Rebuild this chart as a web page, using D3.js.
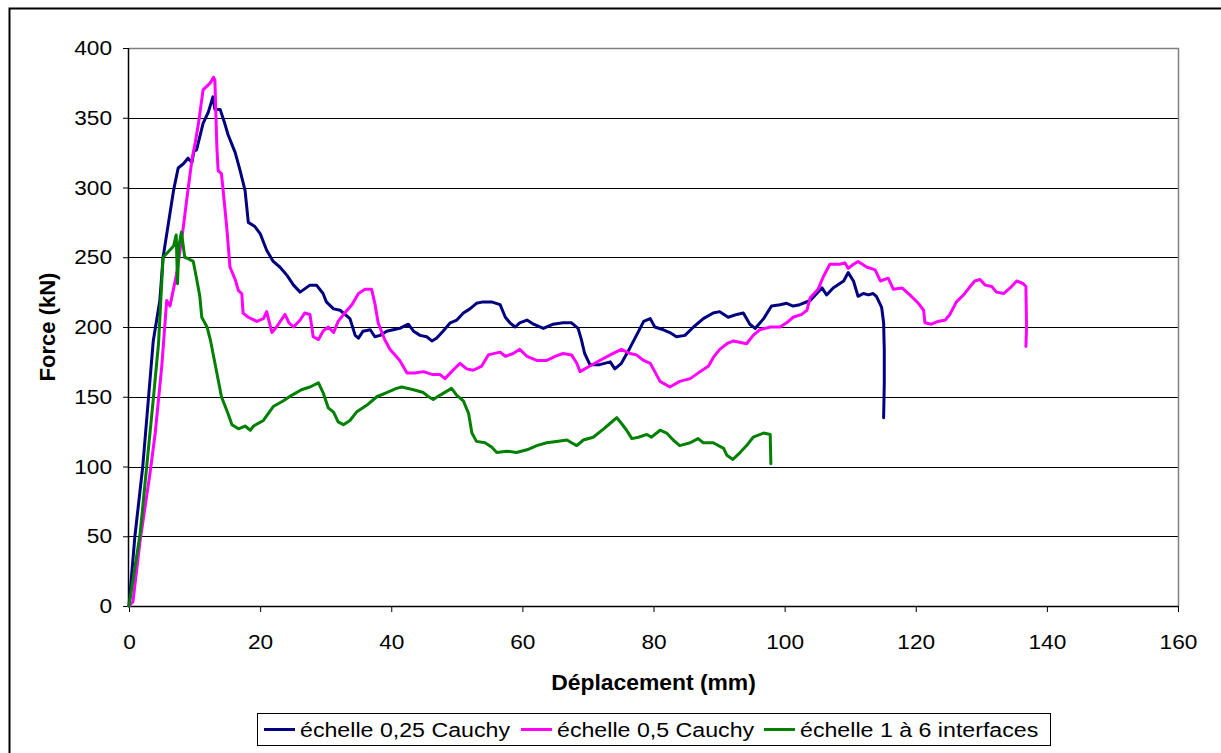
<!DOCTYPE html>
<html>
<head>
<meta charset="utf-8">
<script src="https://cdn.jsdelivr.net/npm/d3@7"></script>
<style>
html,body{margin:0;padding:0;background:#fff;}
svg{display:block;}
text{font-family:"Liberation Sans",Arial,sans-serif;}
</style>
</head>
<body>
<svg id="chart" width="1221" height="753"></svg>
<script>
// ---- Data ----
const xTicks = [0, 20, 40, 60, 80, 100, 120, 140, 160];
const yTicks = [0, 50, 100, 150, 200, 250, 300, 350, 400];
const seriesNames = ["échelle 0,25 Cauchy", "échelle 0,5 Cauchy", "échelle 1 à 6 interfaces"];
const seriesColors = ["#000080", "#FF00FF", "#008000"];

const blueX = [0,0.9,2.1,3.7,4.7,5.2,6.8,7.5,8.3,9.0,9.6,9.9,10.3,11.3,12.1,12.8,13.1,13.9,14.6,15.1,16.2,16.9,17.7,18.2,19.2,20.0,21.0,22.0,23.0,24.1,25.1,26.1,27.6,28.6,29.6,30.1,31.2,32.2,33.7,34.5,35.0,35.7,36.8,37.5,38.3,39.3,40.3,41.3,42.6,43.4,44.4,45.4,46.2,46.9,47.9,49.0,50.0,51.0,52.0,53.0,54.0,55.3,56.6,57.4,58.1,58.9,59.6,60.7,61.7,63.2,64.7,66.2,67.5,68.5,69.0,69.5,70.3,71.8,73.4,74.1,75.1,76.4,77.4,78.5,79.5,80.2,81.5,82.5,83.5,84.8,86.1,87.6,89.1,90.1,91.4,92.7,93.7,94.7,95.5,96.8,98.0,99.3,100.3,101.3,102.3,103.9,104.9,105.7,106.4,107.4,109.0,109.7,110.5,111.2,112.0,112.8,113.5,114.0,114.8,115.1,115.2,115.2,115.1];
const blueY = [0,50,100,190,219,250,298,314,317,321,318,326,327,346,354,365,356,356,346,338,325,313,298,275,272,267,255,247,243,237,230,225,230,230,224,218,213,212,206,194,192,197,198,193,194,197,198,199,202,197,194,193,190,192,197,203,205,210,213,217,218,218,216,207,203,200,203,205,202,199,202,203,203,199,191,181,173,173,175,170,174,185,194,204,206,200,198,196,193,194,200,206,210,211,207,209,210,202,199,206,215,216,217,215,216,219,224,228,223,228,233,239,233,222,224,223,224,222,214,203,183,160,135];

const pinkX = [0,0.6,1.7,3.2,4.0,5.0,5.75,6.25,7.3,8.3,8.8,9.6,10.1,10.6,11.3,12.4,12.9,13.1,13.4,13.6,14.1,14.4,14.9,15.4,16.2,16.7,17.2,17.4,18.2,19.5,20.5,21.0,21.8,22.5,23.8,24.4,25.1,26.1,26.8,27.6,28.1,28.9,29.6,30.4,31.2,31.9,32.9,34.0,35.0,36.0,37.0,37.5,38.0,39.0,39.8,41.3,42.4,43.6,44.9,46.2,47.4,48.2,49.2,50.5,51.5,52.5,53.8,54.8,56.6,57.4,58.6,59.6,60.7,62.2,63.7,65.0,66.2,67.5,68.3,68.8,70.3,71.8,73.4,75.1,76.4,77.4,78.5,79.5,80.2,81.0,82.5,84.0,85.6,87.1,88.4,89.1,90.1,91.2,92.2,94.2,95.2,96.2,97.8,99.3,100.3,101.3,102.6,103.4,103.9,105.1,105.9,106.9,108.4,109.2,109.7,110.5,111.2,112.5,113.8,114.6,115.8,116.6,117.9,119.1,120.4,121.2,121.4,122.4,123.4,124.5,125.2,126.2,127.3,128.3,129.0,129.8,130.6,131.6,132.3,133.4,134.4,135.4,136.4,136.8,136.9,136.8];
const pinkY = [0,3,47,95,124,172,219,215,239,272,291,320,332,346,370,375,379,377,329,312,310,296,272,243,234,226,224,210,207,204,206,211,196,200,209,203,200,205,210,209,193,191,197,200,196,204,210,216,224,227,227,217,203,191,184,176,167,167,168,166,166,163,168,174,170,169,172,180,182,179,181,184,179,176,176,179,181,180,174,168,172,176,180,184,181,180,176,174,168,161,157,161,163,168,172,178,184,188,190,188,194,198,200,200,203,207,209,212,221,227,236,245,245,246,242,245,247,243,241,233,235,227,228,223,217,212,203,202,204,205,209,218,223,229,233,234,230,229,225,224,228,233,231,229,200,186];

const greenX = [0,1.7,2.7,3.7,4.5,5.2,6.0,6.8,7.2,7.4,7.6,8.0,8.5,9.0,9.8,10.3,10.8,11.1,11.9,12.4,13.4,14.1,15.1,15.7,16.7,17.7,18.5,19.0,20.5,22.0,23.5,24.8,26.3,27.6,28.9,29.6,30.4,31.2,31.9,32.7,33.7,34.7,36.3,37.8,39.3,40.8,41.6,43.4,44.9,45.7,46.4,47.4,48.5,49.2,50.0,51.0,51.8,52.3,53.0,54.3,55.3,56.1,57.6,59.1,60.7,62.2,63.7,65.2,66.8,67.5,68.3,69.3,70.8,72.4,73.4,74.4,75.1,75.9,76.7,77.7,79.0,79.7,81.0,82.0,83.0,84.0,85.6,86.8,87.6,89.1,90.7,91.2,92.1,93.2,94.2,95.2,96.8,97.8,97.9];
const greenY = [0,52,100,148,188,250,254,258,266,231,258,268,250,249,247,235,222,207,200,191,167,150,138,130,127,129,126,129,133,143,147,151,155,157,160,153,142,139,132,130,133,139,144,150,153,156,157,155,153,150,148,151,154,156,151,147,138,124,118,117,114,110,111,110,112,115,117,118,119,117,115,119,121,127,131,135,131,126,120,121,123,121,126,124,119,115,117,120,117,117,113,108,105,110,115,121,124,123,102];

// ---- Layout ----
const svg = d3.select("#chart");
const mLeft = 129, mRight = 1178, mTop = 48, mBottom = 606;
const stretch = 1.08;

// Chart frame
svg.append("rect").attr("x", 9.5).attr("y", 8.5).attr("width", 1240).attr("height", 800)
  .attr("fill", "#fff").attr("stroke", "#000").attr("stroke-width", 2);

const x = d3.scaleLinear().domain([0, 160]).range([mLeft, mRight]);
const y = d3.scaleLinear().domain([0, 400]).range([mBottom, mTop]);

// Gridlines
svg.append("g").selectAll("line").data(yTicks.filter(d => d > 0)).join("line")
  .attr("x1", mLeft).attr("x2", mRight)
  .attr("y1", d => Math.round(y(d)) + 0.5).attr("y2", d => Math.round(y(d)) + 0.5)
  .attr("stroke", "#000").attr("stroke-width", 1);

// plot area border (right & top)
svg.append("path")
  .attr("d", `M${mLeft},${mTop + 0.5}H${mRight + 0.5}V${mBottom}`)
  .attr("fill", "none").attr("stroke", "#808080").attr("stroke-width", 1.5);

// Axes
const xAxis = d3.axisBottom(x).tickValues(xTicks).tickSize(6).tickPadding(22).tickFormat(d3.format("d"));
const gx = svg.append("g").attr("transform", `translate(0,${mBottom})`).call(xAxis);
gx.select(".domain").attr("stroke", "#000").attr("stroke-width", 1.5).attr("d", `M${mLeft},0.5H${mRight}`);
gx.selectAll(".tick line").attr("stroke", "#000");
gx.selectAll(".tick text").attr("font-size", 21).attr("fill", "#000")
  .attr("transform", `scale(${stretch},1)`);

const yAxis = d3.axisLeft(y).tickValues(yTicks).tickSize(6).tickPadding(10).tickFormat(d3.format("d"));
const gy = svg.append("g").attr("transform", `translate(${mLeft},0)`).call(yAxis);
gy.select(".domain").attr("stroke", "#000").attr("stroke-width", 1.5).attr("d", `M-0.5,${mTop}V${mBottom}`);
gy.selectAll(".tick line").attr("stroke", "#000");
gy.selectAll(".tick text").attr("font-size", 21).attr("fill", "#000")
  .attr("x", -17 / stretch).attr("transform", `scale(${stretch},1)`);

// Axis titles
svg.append("text").attr("transform", `translate(${(mLeft + mRight) / 2},690) scale(1.04,1)`)
  .attr("text-anchor", "middle")
  .attr("font-size", 22).attr("font-weight", "bold").text("Déplacement (mm)");
svg.append("text").attr("transform", `translate(55,${(mTop + mBottom) / 2}) rotate(-90)`)
  .attr("text-anchor", "middle").attr("font-size", 22).attr("font-weight", "bold").text("Force (kN)");

// Lines
const series = [
  {xs: blueX, ys: blueY},
  {xs: pinkX, ys: pinkY},
  {xs: greenX, ys: greenY}
];
const line = d3.line().x(d => x(d[0])).y(d => y(d[1])).curve(d3.curveLinear);
[0, 1, 2].forEach(i => {
  const s = series[i];
  const pts = s.xs.map((v, k) => [v, s.ys[k]]);
  svg.append("path").datum(pts).attr("d", line)
    .attr("fill", "none").attr("stroke", seriesColors[i]).attr("stroke-width", 3)
    .attr("stroke-linejoin", "round").attr("stroke-linecap", "round");
});

// Legend
const lg = svg.append("g");
lg.append("rect").attr("x", 257.5).attr("y", 713.5).attr("width", 793).attr("height", 32)
  .attr("fill", "#fff").attr("stroke", "#000").attr("stroke-width", 1);
const legendX = [264, 521, 764];
seriesNames.forEach((n, i) => {
  lg.append("line").attr("x1", legendX[i]).attr("x2", legendX[i] + 31)
    .attr("y1", 729.5).attr("y2", 729.5).attr("stroke", seriesColors[i]).attr("stroke-width", 3);
  lg.append("text").attr("transform", `translate(${legendX[i] + 36},737) scale(1.104,1)`)
    .attr("font-size", 21).attr("fill", "#000").text(n);
});
</script>
</body>
</html>
